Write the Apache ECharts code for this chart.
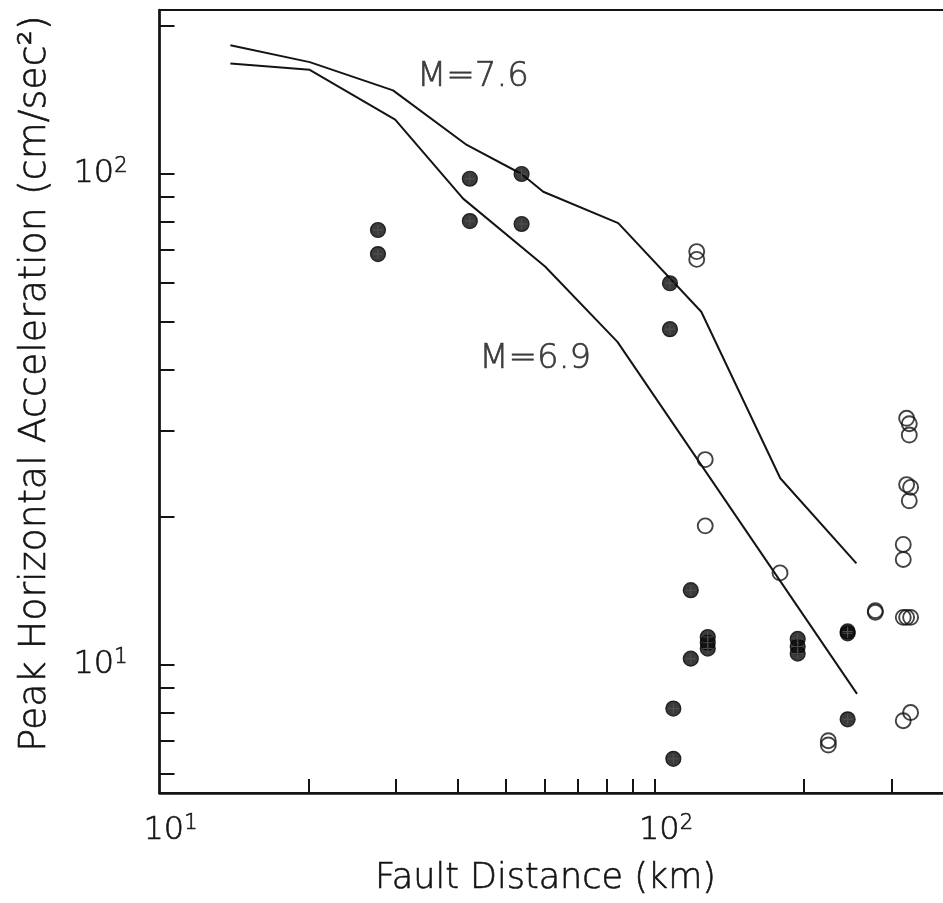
<!DOCTYPE html>
<html>
<head>
<meta charset="utf-8">
<script src="https://cdn.jsdelivr.net/npm/echarts@6/dist/echarts.min.js"></script>
<style>
  html, body { margin: 0; padding: 0; background: #fff; }
  #chart { width: 943px; height: 903px; }
</style>
</head>
<body>
<div id="chart"></div>
<script>
// Peak horizontal acceleration vs. fault distance (log-log)

// Recorded stations, solid symbols
const filledDist = [27.6, 27.6, 42.3, 42.3, 53.8, 53.8, 107.2, 107.2, 108.9, 108.9,
                    118.1, 118.1, 127.8, 127.8, 127.8, 194.1, 194.1, 194.1, 244.8, 244.8, 244.8];
const filledPga  = [76.9, 68.7, 97.8, 80.2, 100, 79.1, 59.9, 48.3, 8.15, 6.44,
                    14.2, 10.3, 11.4, 11.1, 10.8, 11.3, 10.9, 10.55, 11.7, 11.6, 7.75];

// Recorded stations, open symbols
const openDist = [121.4, 121.4, 126.3, 126.3, 178.8, 223.8, 223.8, 278.4, 278.4,
                  322, 326, 326, 322, 328, 326, 317, 317, 317, 322, 328, 317, 328];
const openPga  = [69.5, 67.0, 26.2, 19.2, 15.4, 7.01, 6.87, 12.9, 12.8,
                  31.8, 31.0, 29.4, 23.3, 23.0, 21.6, 17.6, 16.4, 12.5, 12.5, 12.5, 7.70, 8.0];

// Attenuation curves
const m76Dist = [13.9, 20.1, 29.6, 41.7, 53.8, 59.5, 84.3, 124, 179, 255];
const m76Pga  = [183, 169, 148, 114.6, 100, 92, 79.4, 52.4, 24.0, 16.1];
const m69Dist = [13.9, 20.1, 29.9, 41.0, 60, 84, 255.7];
const m69Pga  = [168, 163, 129, 89.1, 64.8, 45.5, 8.73];

// Curve captions, anchored in data space
const captionText = ['M=7.6', 'M=6.9'];
const captionDist = [42.9, 57.3];
const captionPga  = [157.6, 42.0];

// Axis ticks and labels
const xTicks  = [20, 30, 40, 50, 60, 70, 80, 90, 100, 200, 300];
const xLabels = [10, 100];
const yTicks  = [6, 7, 8, 9, 10, 20, 30, 40, 50, 60, 70, 80, 90, 100, 200];
const yLabels = [10, 100];

const zip = (a, b) => a.map((v, i) => [v, b[i]]);
const FONT = '"DejaVu Sans", sans-serif';
const INK = '#141414';
// light stroke font, thickened slightly with a matching outline
const ink = { fontFamily: FONT, fontWeight: 200, color: INK, textBorderColor: INK, textBorderWidth: 0.6 };

const powLabel = v => '{b|10}{s|' + Math.round(Math.log10(v)) + '}';
const labelRich = {
  b: Object.assign({ fontSize: 32, lineHeight: 36 }, ink),
  s: Object.assign({ fontSize: 21, verticalAlign: 'top', lineHeight: 36 }, ink)
};

const chart = echarts.init(document.getElementById('chart'), null, { renderer: 'canvas' });

chart.setOption({
  animation: false,
  backgroundColor: '#fff',
  grid: {
    left: 159.5, top: 10, width: 793.8, height: 783,
    outerBoundsMode: 'none', containLabel: false,
    show: true, borderColor: INK, borderWidth: 2, backgroundColor: 'transparent'
  },
  xAxis: {
    type: 'log', logBase: 10, min: 10, max: 400,
    name: 'Fault Distance (km)',
    nameLocation: 'middle', nameGap: 68,
    nameTextStyle: Object.assign({ fontSize: 35, padding: [0, 22, 0, 0] }, ink),
    axisLine: { show: true, lineStyle: { color: INK, width: 2.5 } },
    axisTick: { show: true, inside: true, length: 14, customValues: xTicks, lineStyle: { color: INK, width: 2 } },
    axisLabel: { show: true, customValues: xLabels, formatter: powLabel, rich: labelRich, margin: 20, padding: [0, 0, 0, 22] },
    splitLine: { show: false },
    minorTick: { show: false }
  },
  yAxis: {
    type: 'log', logBase: 10, min: 5.485, max: 215.8,
    name: 'Peak Horizontal Acceleration (cm/sec²)',
    nameLocation: 'middle', nameGap: 105, nameRotate: 90,
    nameTextStyle: Object.assign({ fontSize: 38, padding: [0, 0, 0, 36] }, ink),
    axisLine: { show: true, lineStyle: { color: INK, width: 2.5 } },
    axisTick: { show: true, inside: true, length: 15, customValues: yTicks, lineStyle: { color: INK, width: 2 } },
    axisLabel: { show: true, customValues: yLabels, formatter: powLabel, rich: labelRich, margin: 32 },
    splitLine: { show: false },
    minorTick: { show: false }
  },
  series: [
    {
      name: 'M=7.6', type: 'line', data: zip(m76Dist, m76Pga),
      symbol: 'none', lineStyle: { color: INK, width: 2 }, z: 2, silent: true
    },
    {
      name: 'M=6.9', type: 'line', data: zip(m69Dist, m69Pga),
      symbol: 'none', lineStyle: { color: INK, width: 2 }, z: 2, silent: true
    },
    {
      name: 'open', type: 'scatter', data: zip(openDist, openPga),
      symbol: 'circle', symbolSize: 15,
      itemStyle: { color: 'rgba(0,0,0,0)', borderColor: INK, borderWidth: 1.9 }, z: 3
    },
    {
      name: 'filled', type: 'scatter', data: zip(filledDist, filledPga),
      symbol: 'circle', symbolSize: 15,
      itemStyle: { color: '#0a0a0a', borderColor: '#050505', borderWidth: 1.2 }, z: 4
    },
    {
      name: 'filled-cross', type: 'scatter', data: zip(filledDist, filledPga),
      symbol: 'path://M0,4.5h10v1h-10z M4.5,0h1v10h-1z', symbolSize: 10,
      itemStyle: { color: '#5a5a5a' }, z: 5, silent: true
    },
    {
      name: 'captions', type: 'scatter',
      data: captionDist.map((d, i) => ({ value: [d, captionPga[i]], name: captionText[i] })),
      symbol: 'circle', symbolSize: 2,
      itemStyle: { color: 'rgba(0,0,0,0)' },
      label: Object.assign({
        show: true, position: 'inside', formatter: p => p.name, fontSize: 34
      }, ink),
      z: 6, silent: true
    }
  ]
});
</script>
</body>
</html>
